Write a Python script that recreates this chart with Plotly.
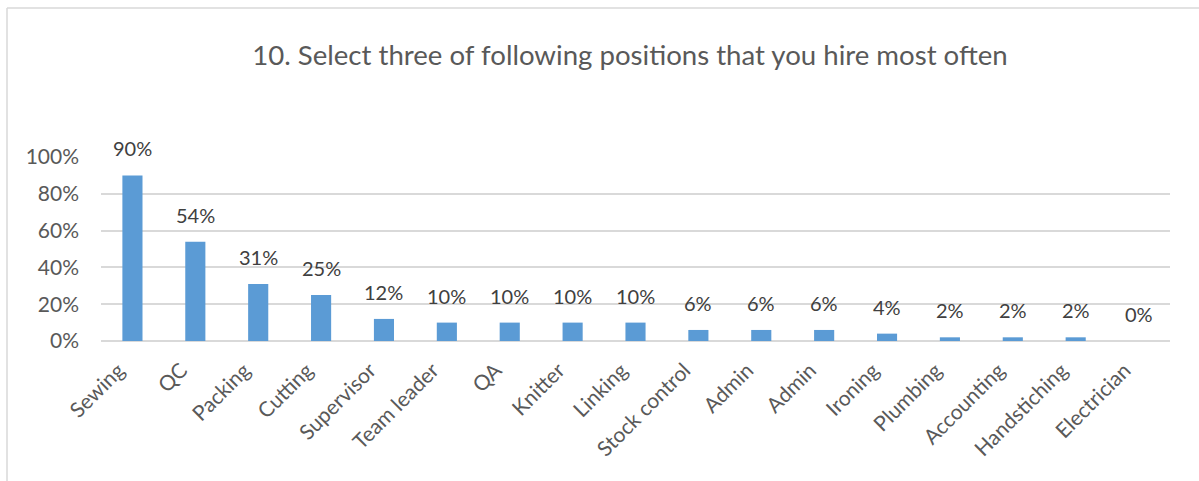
import plotly.graph_objects as go

# Survey results: share of respondents naming each position
positions = ["Sewing", "QC", "Packing", "Cutting", "Supervisor", "Team leader", "QA",
             "Knitter", "Linking", "Stock control", "Admin", "Admin", "Ironing",
             "Plumbing", "Accounting", "Handstiching", "Electrician"]
share = [0.90, 0.54, 0.31, 0.25, 0.12, 0.10, 0.10, 0.10, 0.10, 0.06, 0.06, 0.06,
         0.04, 0.02, 0.02, 0.02, 0.00]
y_ticks = [0, 0.2, 0.4, 0.6, 0.8, 1.0]
title_text = "10. Select three of following positions that you hire most often"

FONT = "Lato"
TEXT = "#595959"
W, H = 1199, 481
ML, MR, MT, MB = 101, 29, 157, 140

# positions are indexed so the repeated "Admin" keeps its own bar
idx = list(range(len(positions)))

fig = go.Figure(go.Bar(
    x=idx, y=share, marker=dict(color="#5B9BD5", line=dict(width=0)),
    width=0.32, hoverinfo="skip",
))

for i, v in zip(idx, share):
    fig.add_annotation(x=i, y=v, text=f"{round(v*100)}%", showarrow=False,
                       yanchor="middle", yshift=27,
                       font=dict(family=FONT, size=20, color="#404040"))

# chart-area outline (top and left edges)
pw = W - ML - MR
ph = H - MT - MB
x_left = (7 - ML) / pw
y_top = 1 + (MT - 8) / ph
fig.add_shape(type="line", xref="paper", yref="paper", x0=x_left, x1=(W + 10 - ML) / pw,
              y0=y_top, y1=y_top, line=dict(color="#D9D9D9", width=1.5))
fig.add_shape(type="line", xref="paper", yref="paper", x0=x_left, x1=x_left,
              y0=y_top, y1=-(MB + 10) / ph, line=dict(color="#D9D9D9", width=1.5))

fig.update_layout(
    width=W, height=H, margin=dict(l=ML, r=MR, t=MT, b=MB),
    paper_bgcolor="white", plot_bgcolor="white", showlegend=False,
    title=dict(text=title_text, x=630 / W, xref="container", xanchor="center",
               y=1 - 55 / H, yanchor="middle",
               font=dict(family=FONT, size=27.6, color=TEXT)),
    xaxis=dict(tickmode="array", tickvals=idx, ticktext=positions, tickangle=-45,
               range=[-0.5, len(positions) - 0.5], showgrid=False, zeroline=False,
               showline=False, ticks="", ticklabelstandoff=12, ticklabelshift=-14,
               tickfont=dict(family=FONT, size=21, color=TEXT)),
    yaxis=dict(tickmode="array", tickvals=y_ticks, ticktext=[f"{int(t*100)}%" for t in y_ticks],
               range=[0, 1.0], showgrid=True, gridcolor="#D9D9D9", gridwidth=1.5,
               zeroline=True, zerolinecolor="#D9D9D9", zerolinewidth=1.5,
               showline=False, ticks="", ticklabelstandoff=21,
               tickfont=dict(family=FONT, size=21, color=TEXT)),
    bargap=0.68,
)

fig.write_html("out.html")
